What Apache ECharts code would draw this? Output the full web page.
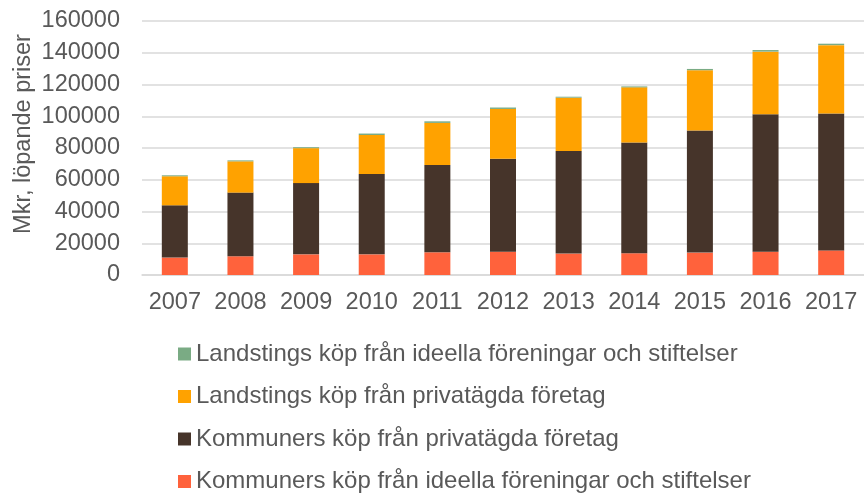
<!DOCTYPE html>
<html lang="sv">
<head>
<meta charset="utf-8">
<script src="https://cdn.jsdelivr.net/npm/echarts@6/dist/echarts.min.js"></script>
<style>
  html, body { margin: 0; padding: 0; background: #fff; }
  #chart { width: 864px; height: 493px; }
</style>
</head>
<body>
<div id="chart"></div>
<script>
  var years = ['2007', '2008', '2009', '2010', '2011', '2012', '2013', '2014', '2015', '2016', '2017'];
  var kommunerIdeella = [11000, 11800, 13000, 13000, 14300, 14700, 13500, 13700, 14100, 14700, 15500];
  var kommunerPrivata = [32900, 40100, 44900, 50600, 55000, 58600, 64600, 69700, 76900, 86500, 86300];
  var landstingPrivata = [18300, 19700, 22000, 24600, 26500, 31300, 33600, 34800, 38000, 39500, 43000];
  var landstingIdeella = [600, 600, 600, 900, 1000, 900, 600, 600, 800, 1000, 900];

  var textColor = '#595959';
  var font = 'Liberation Sans, Arial, sans-serif';

  var chart = echarts.init(document.getElementById('chart'));
  chart.setOption({
    animation: false,
    textStyle: { fontFamily: font },
    grid: { left: 142, right: 0, top: 21, bottom: 218 },
    legend: {
      orient: 'vertical',
      left: 178,
      top: 342,
      padding: 0,
      height: 200,
      itemWidth: 13,
      itemHeight: 13,
      itemGap: 18.5,
      icon: 'rect',
      textStyle: { color: textColor, fontSize: 24, lineHeight: 24, fontFamily: font },
      data: [
        'Landstings köp från ideella föreningar och stiftelser',
        'Landstings köp från privatägda företag',
        'Kommuners köp från privatägda företag',
        'Kommuners köp från ideella föreningar och stiftelser'
      ]
    },
    xAxis: {
      type: 'category',
      data: years,
      axisTick: { show: false },
      axisLine: { lineStyle: { color: '#d9d9d9', width: 1.5 } },
      axisLabel: { color: textColor, fontSize: 23.5, margin: 16, interval: 0 }
    },
    yAxis: {
      type: 'value',
      min: 0,
      max: 160000,
      interval: 20000,
      name: 'Mkr, löpande priser',
      nameLocation: 'middle',
      nameGap: 106,
      nameMoveOverlap: false,
      nameTextStyle: { color: textColor, fontSize: 23.5, padding: [0, 0, 0, 28] },
      axisLabel: {
        color: textColor, fontSize: 23.5, margin: 22,
        formatter: function (v) { return String(v); }
      },
      splitLine: { lineStyle: { color: '#d9d9d9', width: 1.5 } }
    },
    series: [
      {
        name: 'Kommuners köp från ideella föreningar och stiftelser',
        type: 'bar', stack: 'total', barWidth: 26,
        itemStyle: { color: '#ff623c' },
        data: kommunerIdeella
      },
      {
        name: 'Kommuners köp från privatägda företag',
        type: 'bar', stack: 'total', barWidth: 26,
        itemStyle: { color: '#46342a' },
        data: kommunerPrivata
      },
      {
        name: 'Landstings köp från privatägda företag',
        type: 'bar', stack: 'total', barWidth: 26,
        itemStyle: { color: '#ffa200' },
        data: landstingPrivata
      },
      {
        name: 'Landstings köp från ideella föreningar och stiftelser',
        type: 'bar', stack: 'total', barWidth: 26,
        itemStyle: { color: '#7aab84' },
        data: landstingIdeella
      }
    ]
  });

  window.onresize = function() {
    chart.resize();
  };
</script>
</body>
</html>
